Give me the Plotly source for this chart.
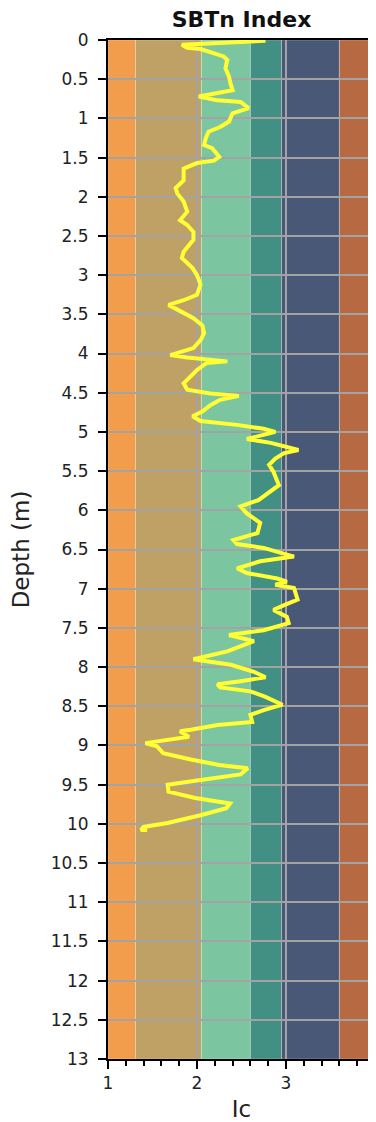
import plotly.graph_objects as go

# SBTn zone boundaries and colours
zone_bounds = [1.0, 1.31, 2.05, 2.60, 2.95, 3.60, 4.0]
zone_colors = ["#F29D4C", "#BFA165", "#7BC6A0", "#428F83", "#4A5877", "#B76941"]

depth = [0.01, 0.03, 0.06, 0.10, 0.115, 0.21, 0.255, 0.36, 0.47, 0.57,
         0.64, 0.72, 0.77, 0.79, 0.87, 0.935, 1.04, 1.11, 1.17, 1.25,
         1.34, 1.38, 1.49, 1.54, 1.57, 1.64, 1.79, 1.89, 1.96, 2.06,
         2.19, 2.30, 2.36, 2.45, 2.55, 2.70, 2.78, 2.91, 3.00, 3.12,
         3.25, 3.32, 3.38, 3.44, 3.55, 3.64, 3.74, 3.83, 3.93, 4.02,
         4.05, 4.10, 4.12, 4.21, 4.38, 4.46, 4.51, 4.54, 4.59, 4.66,
         4.74, 4.80, 4.86, 4.91, 4.96, 5.00, 5.09, 5.14, 5.23, 5.27,
         5.34, 5.42, 5.51, 5.68, 5.78, 5.87, 5.95, 6.04, 6.16, 6.29,
         6.38, 6.43, 6.48, 6.59, 6.65, 6.74, 6.80, 6.87, 6.91, 6.95,
         6.99, 7.14, 7.21, 7.27, 7.36, 7.44, 7.53, 7.59, 7.67, 7.80,
         7.90, 7.97, 8.06, 8.13, 8.18, 8.22, 8.26, 8.31, 8.38, 8.48,
         8.55, 8.61, 8.70, 8.74, 8.80, 8.82, 8.89, 8.93, 8.97, 9.01,
         9.10, 9.18, 9.25, 9.29, 9.37, 9.44, 9.50, 9.59, 9.67, 9.74,
         9.80, 9.89, 9.99, 10.04, 10.08, 10.08]

ic = [2.77, 2.41, 1.83, 1.89, 2.04, 2.30, 2.34, 2.32, 2.36, 2.38,
      2.40, 2.02, 2.23, 2.49, 2.58, 2.40, 2.36, 2.26, 2.13, 2.10,
      2.08, 2.17, 2.25, 2.19, 2.00, 1.85, 1.85, 1.76, 1.78, 1.85,
      1.89, 1.81, 1.89, 1.96, 1.96, 1.85, 1.83, 1.95, 2.00, 2.04,
      2.00, 1.85, 1.68, 1.78, 1.96, 2.06, 2.08, 2.04, 1.96, 1.70,
      1.89, 2.34, 2.11, 2.00, 1.85, 1.89, 2.15, 2.47, 2.26, 2.15,
      2.06, 1.95, 2.04, 2.45, 2.75, 2.88, 2.56, 2.83, 3.14, 2.98,
      2.88, 2.81, 2.86, 2.92, 2.79, 2.69, 2.49, 2.56, 2.71, 2.68,
      2.41, 2.45, 2.75, 3.09, 2.71, 2.45, 2.56, 2.90, 3.01, 2.88,
      3.09, 3.13, 2.98, 2.86, 3.01, 3.03, 2.75, 2.36, 2.64, 2.34,
      1.96, 2.38, 2.64, 2.77, 2.49, 2.23, 2.26, 2.60, 2.77, 2.96,
      2.75, 2.60, 2.62, 2.23, 1.93, 1.81, 1.91, 1.63, 1.42, 1.55,
      1.62, 1.93, 2.25, 2.57, 2.49, 2.04, 1.67, 1.68, 1.98, 2.37,
      2.33, 2.04, 1.67, 1.40, 1.37, 1.44]

y_tickvals = [i * 0.5 for i in range(27)]
y_ticktext = ["0", "0.5", "1", "1.5", "2", "2.5", "3", "3.5", "4", "4.5", "5", "5.5",
              "6", "6.5", "7", "7.5", "8", "8.5", "9", "9.5", "10", "10.5", "11",
              "11.5", "12", "12.5", "13"]
x_tickvals = [1, 2, 3, 4]
x_ticktext = ["1", "2", "3", "4"]

FONT = "DejaVu Sans"
# the page body has an 8px default margin, so the figure is sized to fit the window
W, H = 368, 1114

fig = go.Figure()
fig.add_trace(go.Scatter(x=ic, y=depth, mode="lines",
                         line=dict(color="#FFFF33", width=4),
                         showlegend=False, hoverinfo="skip"))

for i, c in enumerate(zone_colors):
    fig.add_shape(type="rect", xref="x", yref="y",
                  x0=zone_bounds[i], x1=zone_bounds[i + 1], y0=0, y1=13,
                  fillcolor=c, line=dict(color="rgba(255,255,255,0.25)", width=1),
                  layer="below")

fig.update_layout(
    width=W, height=H,
    margin=dict(l=100, r=1, t=32, b=63),
    paper_bgcolor="white", plot_bgcolor="white",
    font=dict(family=FONT, color="#222"),
    title=dict(text="<b>SBTn Index</b>", x=0.5, xref="paper", xanchor="center",
               y=1 - 11.5 / H, yref="container", yanchor="middle",
               font=dict(size=22, family=FONT, color="#111")),
)
fig.update_xaxes(range=[1, 4], tickvals=x_tickvals, ticktext=x_ticktext,
                 automargin=False, ticklabeloverflow="allow",
                 ticks="outside", ticklen=8, tickwidth=2, tickcolor="black",
                 minor=dict(dtick=0.2, ticks="outside", ticklen=5, tickwidth=1.5,
                            tickcolor="black", showgrid=False),
                 showline=True, linecolor="black", linewidth=2, mirror=True,
                 showgrid=True, gridcolor="#A3A3A3", gridwidth=1.5,
                 tickfont=dict(size=17, family=FONT, color="#222"),
                 title=dict(text="Ic", font=dict(size=23, family=FONT, color="#222")),
                 zeroline=False)
fig.update_yaxes(range=[13, 0], tickvals=y_tickvals, ticktext=y_ticktext,
                 automargin=False, ticklabelstandoff=6, ticklabeloverflow="allow",
                 ticks="outside", ticklen=8, tickwidth=2, tickcolor="black",
                 showline=True, linecolor="black", linewidth=2, mirror=True,
                 showgrid=True, gridcolor="#A3A3A3", gridwidth=1.5,
                 tickfont=dict(size=17, family=FONT, color="#222"),
                 title=dict(text="Depth (m)", font=dict(size=23, family=FONT, color="#222")),
                 zeroline=False)

fig.write_html("out.html")
